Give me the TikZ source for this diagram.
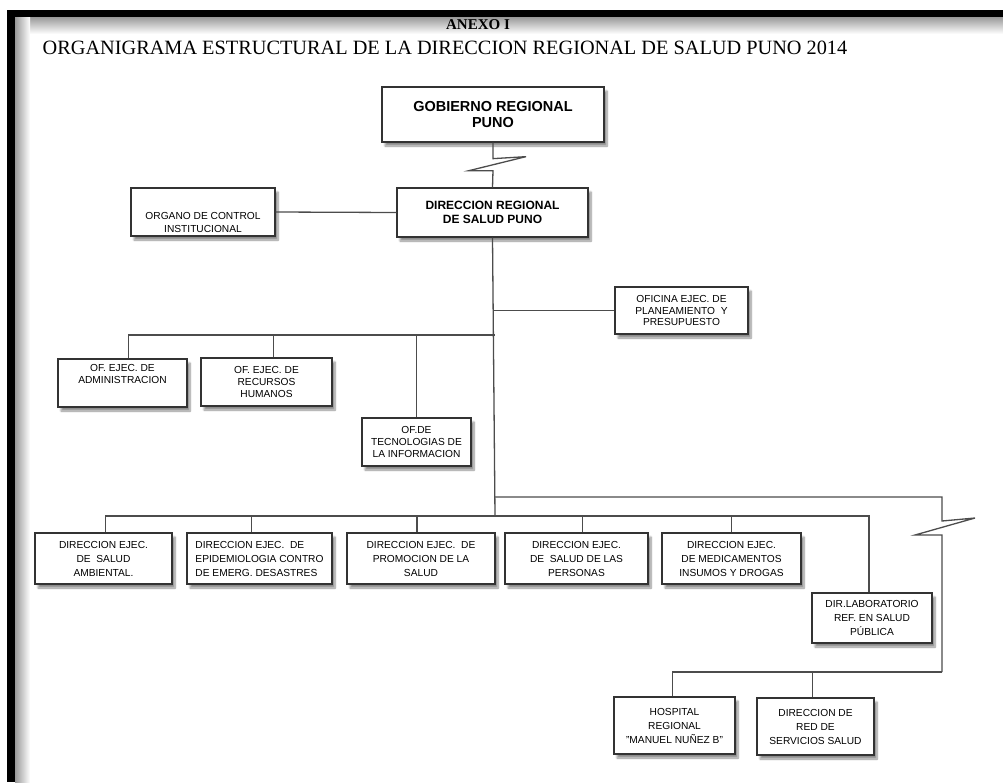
\documentclass[tikz,border=0pt]{standalone}
\usepackage{fontspec}
\setmainfont{Liberation Serif}
\setsansfont{Liberation Sans}
\usetikzlibrary{shadows.blur}

\begin{document}
\begin{tikzpicture}[x=1pt,y=-1pt,
    caja/.style={draw=black!80,line width=1.3pt,fill=white,inner sep=2pt,align=center,
      font=\sffamily\fontsize{10.2}{11.8}\selectfont,
      blur shadow={shadow xshift=3pt,shadow yshift=-4pt,shadow blur steps=8,shadow opacity=45}},
    fila/.style={caja,font=\sffamily\fontsize{10.2}{14}\selectfont,minimum height=51pt},
    linea/.style={draw=black!70,line width=1.3pt}]
    \useasboundingbox (0,0) rectangle (1003,782);
    %frame
    \fill [black] (7,10) rectangle (1003,17);
    \fill [black] (7,10) rectangle (15,782);
    \shade [top color=black!40,bottom color=white] (15,17) rectangle (1003,34);
    \shade [left color=black!40,right color=white] (15,17) rectangle (30,782);
    %titles
    \node [font=\bfseries\fontsize{15}{15}\selectfont] (anexo) at (478,25) {ANEXO I};
    \node [font=\fontsize{20.3}{20}\selectfont] (titulo) at (445,48) {ORGANIGRAMA ESTRUCTURAL DE LA DIRECCION REGIONAL DE SALUD PUNO 2014};
    %boxes
    \node [caja,minimum width=222pt,minimum height=55pt,font=\sffamily\bfseries\fontsize{14.5}{16}\selectfont] (gob) at (493,114.5) {GOBIERNO REGIONAL\\PUNO};
    \node [caja,minimum width=191pt,minimum height=49pt,font=\sffamily\bfseries\fontsize{12}{14}\selectfont] (drs) at (492.5,212.5) {DIRECCION REGIONAL\\DE SALUD PUNO};
    \node [caja,minimum width=144pt,minimum height=48pt] (oci) at (203,212) {};
    \node [font=\sffamily\fontsize{10.2}{13}\selectfont,align=center] (ocitxt) at (203,222) {ORGANO DE CONTROL\\INSTITUCIONAL};
    \node [caja,minimum width=133pt,minimum height=47pt] (ofp) at (681.5,310.5) {OFICINA EJEC. DE\\PLANEAMIENTO\ \ Y\\PRESUPUESTO};
    \node [caja,minimum width=129pt,minimum height=48pt] (ofa) at (122.5,383) {OF. EJEC. DE\\ADMINISTRACION\\[6pt]};
    \node [caja,minimum width=131pt,minimum height=48pt] (ofr) at (266.5,382) {OF. EJEC. DE\\RECURSOS\\HUMANOS};
    \node [caja,minimum width=109pt,minimum height=48pt] (oft) at (416.5,442) {OF.DE\\TECNOLOGIAS DE\\LA INFORMACION};
    \node [fila,minimum width=137pt] (dsa) at (103.5,558.5) {DIRECCION EJEC.\\DE\ \ SALUD\\AMBIENTAL.};
    \node [fila,minimum width=145pt,align=left] (dep) at (259.5,558.5) {DIRECCION EJEC.\ \ DE\\EPIDEMIOLOGIA CONTRO\\DE EMERG. DESASTRES};
    \node [fila,minimum width=148pt] (dps) at (421,558.5) {DIRECCION EJEC.\ \ DE\\PROMOCION DE LA\\SALUD};
    \node [fila,minimum width=143pt] (dsp) at (576.5,558.5) {DIRECCION EJEC.\\DE\ \ SALUD DE LAS\\PERSONAS};
    \node [fila,minimum width=139pt] (dmi) at (731.5,558.5) {DIRECCION EJEC.\\DE MEDICAMENTOS\\INSUMOS Y DROGAS};
    \node [fila,minimum width=120pt,minimum height=50pt] (dlr) at (872,618) {DIR.LABORATORIO\\REF. EN SALUD\\PÚBLICA};
    \node [fila,minimum width=121pt,minimum height=57pt] (hrm) at (674.5,725.5) {HOSPITAL\\REGIONAL\\"MANUEL NUÑEZ B"};
    \node [fila,minimum width=117pt,minimum height=57pt] (drr) at (815.5,726.5) {DIRECCION DE\\RED DE\\SERVICIOS SALUD};
    %connectors
    \coordinate (b1) at (495,335);
    \coordinate (b2) at (495,516);
    \coordinate (b3) at (495,497);
    \coordinate (b4) at (942,672);
    \draw [linea] (gob.south) -- ++(0,16) -- ++(33,-2) -- ++(-57,14) -- ++(24,0) -- (drs.north);
    \draw [linea] (oci.east) -- (drs.west);
    \draw [linea] (drs.south) -- (b2);
    \draw [linea] (ofp.west) -- (ofp.west -| drs.south);
    \draw [linea] ([xshift=6pt]ofa.north) |- (b1);
    \draw [linea] ([xshift=7pt]ofr.north) -- ([xshift=7pt]ofr.north |- b1);
    \draw [linea] (oft.north) -- (oft.north |- b1);
    \draw [linea] ([xshift=2pt]dsa.north) |- (b2) -| ([xshift=-3pt]dlr.north);
    \draw [linea] ([xshift=-8pt]dep.north) -- ([xshift=-8pt]dep.north |- b2);
    \draw [linea] ([xshift=-4pt]dps.north) -- ([xshift=-4pt]dps.north |- b2);
    \draw [linea] ([xshift=6pt]dsp.north) -- ([xshift=6pt]dsp.north |- b2);
    \draw [linea] (dmi.north) -- (dmi.north |- b2);
    \draw [linea] (b3) -| (942,521) -- (975,518) -- (915,535) -- (942,535) -- (b4);
    \draw [linea] ([xshift=-2pt]hrm.north) |- (b4);
    \draw [linea] ([xshift=-3pt]drr.north) -- ([xshift=-3pt]drr.north |- b4);
\end{tikzpicture}
\end{document}
